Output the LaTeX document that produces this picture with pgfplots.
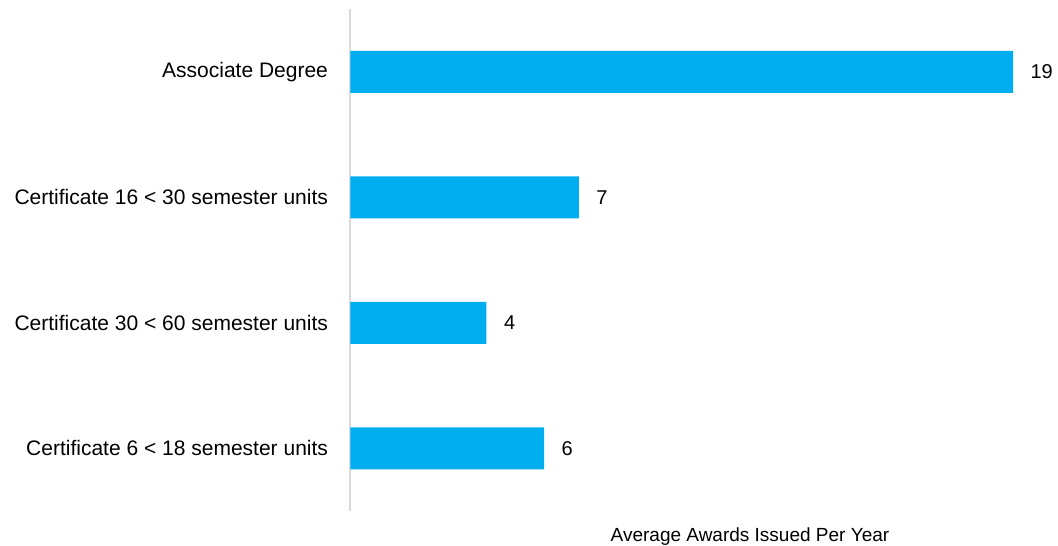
\documentclass[border=0pt]{standalone}
\usepackage{pgfplots}
\pgfplotsset{compat=1.18}
\usepackage{fontspec}
\setmainfont{Liberation Sans}
\definecolor{barblue}{HTML}{00AEEF}
\definecolor{axgray}{HTML}{D9D9D9}
\begin{document}
\begin{tikzpicture}[x=1pt,y=1pt]
\useasboundingbox (0,0) rectangle (1058,546);
\begin{axis}[
  at={(350.5pt,35pt)}, anchor=south west,
  scale only axis, width=662.5pt, height=502pt,
  xbar, bar width=42pt,
  xmin=0, xmax=19,
  ymin=-0.5, ymax=3.5, y dir=reverse,
  ytick={0,1,2,3},
  yticklabels={Associate Degree,Certificate 16 < 30 semester units,Certificate 30 < 60 semester units,Certificate 6 < 18 semester units},
  yticklabel style={font=\fontsize{21}{23}\selectfont, text=black, xshift=-19pt},
  major tick length=0pt,
  axis x line=none,
  axis y line*=left,
  y axis line style={draw=axgray, line width=2pt, -},
  xtick=\empty,
  clip=false,
  point meta=explicit symbolic,
  nodes near coords={\pgfplotspointmeta},
  nodes near coords style={font=\fontsize{20}{22}\selectfont, text=black, anchor=west, xshift=14pt},
]
\addplot[fill=barblue, draw=none] coordinates {(19,0) [19] (6.55,1) [7] (3.9,2) [4] (5.55,3) [6]};
\node[font=\fontsize{19}{21}\selectfont, text=black] at (rel axis cs:0.603,-0.05) {Average Awards Issued Per Year};
\end{axis}
\end{tikzpicture}
\end{document}
